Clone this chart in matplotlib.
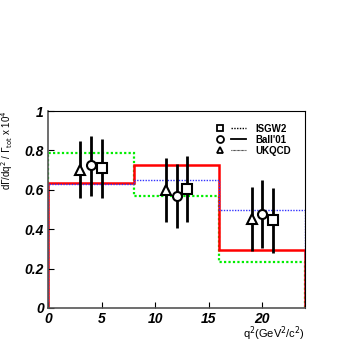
import numpy as np
import matplotlib.pyplot as plt
from matplotlib.lines import Line2D
from matplotlib.legend_handler import HandlerTuple

plt.rcParams['font.family'] = ['Liberation Sans', 'DejaVu Sans']

# q^2 bins (GeV^2/c^2)
edges = [0, 8, 16, 24]

# model predictions per bin (x 10^4)
isgw2 = [0.630, 0.651, 0.495]
ball01 = [0.636, 0.728, 0.294]
ukqcd = [0.787, 0.571, 0.234]

# data points for each model: x positions, values, error bar ends
tri_x = [3, 11, 19]
tri_y = [0.700, 0.597, 0.451]
tri_lo = [0.560, 0.436, 0.290]
tri_hi = [0.850, 0.762, 0.614]

circ_x = [4, 12, 20]
circ_y = [0.725, 0.570, 0.478]
circ_lo = [0.571, 0.405, 0.302]
circ_hi = [0.875, 0.731, 0.648]

sq_x = [5, 13, 21]
sq_y = [0.710, 0.604, 0.446]
sq_lo = [0.558, 0.439, 0.281]
sq_hi = [0.860, 0.770, 0.609]

fig = plt.figure(figsize=(3.46, 3.46), dpi=100)
ax = fig.add_axes([0.139, 0.110, 0.743, 0.569])

#Histograms
ax.stairs(ukqcd, edges, baseline=0, color='#00ee00', linestyle=(0, (1, 1)), linewidth=1.6)
ax.stairs(ball01, edges, baseline=0, color='red', linewidth=1.8)
ax.stairs(isgw2, edges, baseline=0, color='#3333ff', linestyle=(0, (1, 1)), linewidth=1.0)

#Points with error bars
def points(x, y, lo, hi, marker):
    y = np.array(y)
    err = [y - np.array(lo), np.array(hi) - y]
    ax.errorbar(x, y, yerr=err, fmt=marker, color='black', mfc='white', mec='black',
                ms=6.5, mew=1.5, elinewidth=2.0, capsize=0, zorder=5)

points(tri_x, tri_y, tri_lo, tri_hi, '^')
points(circ_x, circ_y, circ_lo, circ_hi, 'o')
points(sq_x, sq_y, sq_lo, sq_hi, 's')

ax.set_xlim(0, 24)
ax.set_ylim(0, 1)
ax.set_xticks([0, 5, 10, 15, 20])
ax.set_yticks([0, 0.2, 0.4, 0.6, 0.8, 1])
ax.set_yticklabels(['0', '0.2', '0.4', '0.6', '0.8', '1'])
ax.tick_params(direction='in', length=4, width=0.8, labelsize=10, pad=3)
for lab in ax.get_xticklabels() + ax.get_yticklabels():
    lab.set_fontweight('bold')
    lab.set_fontstyle('italic')
for s in ['left', 'bottom']:
    ax.spines[s].set_color('#555555')
    ax.spines[s].set_linewidth(1.2)
for s in ['top', 'right']:
    ax.spines[s].set_linewidth(0.8)

ax.set_xlabel(r'q$^2$(GeV$^2$/c$^2$)', fontsize=8, loc='right')
ax.xaxis.set_label_coords(1.0, -0.085)
ax.set_ylabel(r'd$\Gamma$/dq$^2$ / $\Gamma_{\rm tot}$ x 10$^4$', fontsize=7)
ax.yaxis.set_label_coords(-0.128, 0.80)

#Legend
h_sq = (Line2D([], [], marker='s', ls='none', mfc='white', mec='black', ms=5, mew=1.3),
        Line2D([], [], color='black', ls=(0, (1, 1)), lw=1.0))
h_ci = (Line2D([], [], marker='o', ls='none', mfc='white', mec='black', ms=5, mew=1.3),
        Line2D([], [], color='black', lw=1.3))
h_tr = (Line2D([], [], marker='^', ls='none', mfc='white', mec='black', ms=5, mew=1.3),
        Line2D([], [], color='black', ls=(0, (0.6, 0.6)), lw=0.8))
leg = ax.legend([h_sq, h_ci, h_tr], ['ISGW2', "Ball'01", 'UKQCD'],
                handler_map={tuple: HandlerTuple(ndivide=None, pad=0.3)},
                loc='upper right', bbox_to_anchor=(0.98, 0.98), frameon=False,
                handlelength=3.4, handletextpad=1.0, labelspacing=0.1,
                prop={'weight': 'bold', 'size': 7})

plt.savefig('out.png', dpi=100)
